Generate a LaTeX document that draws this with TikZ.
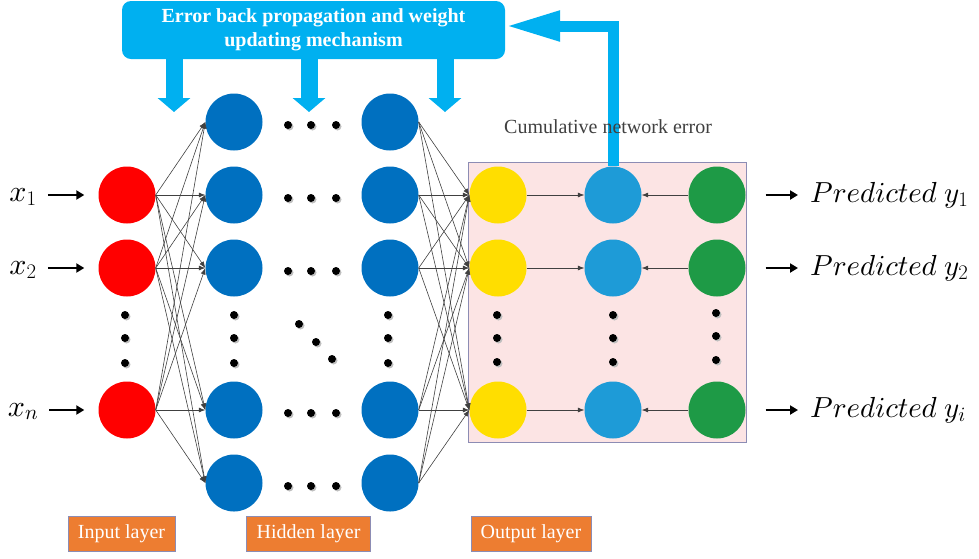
\documentclass[tikz,border=0pt]{standalone}
\usepackage{fontspec}
\setmainfont{Liberation Serif}
\usetikzlibrary{arrows.meta,positioning,fit,backgrounds}
\DeclareFontFamily{OML}{cmm}{\skewchar\font'177}
\DeclareFontShape{OML}{cmm}{m}{it}{<-> cmmi10}{}

\definecolor{bannerblue}{RGB}{0,176,240}
\definecolor{inred}{RGB}{255,0,0}
\definecolor{hidblue}{RGB}{0,112,192}
\definecolor{outyellow}{RGB}{255,222,0}
\definecolor{errblue}{RGB}{30,155,215}
\definecolor{tgtgreen}{RGB}{30,154,70}
\definecolor{boxpink}{RGB}{252,228,228}
\definecolor{boxedge}{RGB}{140,140,180}
\definecolor{labelorange}{RGB}{237,125,49}

\tikzset{
  neuron/.style={circle, minimum size=57pt, inner sep=0pt},
  wire/.style={draw=black!75, line width=0.6pt, -{Latex[length=6.5pt,width=5pt]}},
  ioarrow/.style={line width=2.4pt, -{Triangle[width=9pt,length=8pt]}},
  downarrow/.style={draw=bannerblue, line width=17pt, -{Triangle[width=32pt,length=14pt]}},
  layerlabel/.style={fill=labelorange, draw=boxedge, text=white,
    font=\fontsize{20}{24}\selectfont, minimum height=35pt, inner xsep=10pt},
  mathlabel/.style={inner sep=0pt, anchor=base, font=\fontsize{30}{34}\selectfont}
}

\begin{document}
\begin{tikzpicture}[x=1pt,y=-1pt]
        \useasboundingbox (0,0) rectangle (979,558);

        \node[neuron, fill=inred] (i1) at (127,195) {};
        \node[neuron, fill=inred] (i2) at (127,268) {};
        \node[neuron, fill=inred] (i3) at (127,410) {};

        \node[neuron, fill=hidblue] (h1) at (234,122) {};
        \node[neuron, fill=hidblue] (h2) at (234,195) {};
        \node[neuron, fill=hidblue] (h3) at (234,268) {};
        \node[neuron, fill=hidblue] (h4) at (234,410) {};
        \node[neuron, fill=hidblue] (h5) at (234,483) {};

        \node[neuron, fill=hidblue] (k1) at (390,122) {};
        \node[neuron, fill=hidblue] (k2) at (390,195) {};
        \node[neuron, fill=hidblue] (k3) at (390,268) {};
        \node[neuron, fill=hidblue] (k4) at (390,410) {};
        \node[neuron, fill=hidblue] (k5) at (390,483) {};

        \node[neuron, fill=outyellow] (o1) at (498,195) {};
        \node[neuron, fill=outyellow] (o2) at (498,268) {};
        \node[neuron, fill=outyellow] (o3) at (498,410) {};

        \node[neuron, fill=errblue] (e1) at (613,195) {};
        \node[neuron, fill=errblue] (e2) at (613,268) {};
        \node[neuron, fill=errblue] (e3) at (613,410) {};

        \node[neuron, fill=tgtgreen] (g1) at (717,195) {};
        \node[neuron, fill=tgtgreen] (g2) at (717,268) {};
        \node[neuron, fill=tgtgreen] (g3) at (717,410) {};

        \begin{scope}[on background layer]
        \node[fit=(o1)(g3), fill=boxpink, draw=boxedge, line width=0.8pt,
          inner xsep=1pt, inner ysep=4pt] (outbox) {};
        \end{scope}

        \foreach \a in {i1,i2,i3}
          \foreach \b in {h1,h2,h3,h4,h5}
            \draw[wire] (\a.east) -- (\b.west);
        \foreach \a in {k1,k2,k3,k4,k5}
          \foreach \b in {o1,o2,o3}
            \draw[wire] (\a.east) -- (\b.west);
        \foreach \r in {1,2,3} {
          \draw[wire] (o\r.east) -- (e\r.west);
          \draw[wire] (g\r.west) -- (e\r.east);
        }

        \foreach \dx/\dy in {288/125,311/125,336/125, 288/198,311/198,336/198,
            288/271,311/271,336/271, 288/413,311/413,336/413, 288/486,311/486,336/486,
            299/324,316/342,332/359,
            125/315,125/338,125/363, 234/315,234/338,234/363, 388/315,388/338,388/363,
            497/315,497/338,497/362, 613/315,613/338,613/362, 716/313,716/336,716/360} {
          \fill[black!25] (\dx+1.5,\dy+1.5) circle (4pt);
          \fill (\dx,\dy) circle (4pt);
        }

        \node[rounded corners=9pt, fill=bannerblue, minimum width=383pt, minimum height=58pt,
          text=white, align=center, font=\bfseries\fontsize{20}{24}\selectfont]
          (bnr) at (313.5,30) {Error back propagation and weight\\updating mechanism};

        \coordinate (tA) at (174,112);
        \coordinate (tB) at (309,112);
        \coordinate (tC) at (445,112);
        \draw[downarrow] (bnr.south -| tA) -- (tA);
        \draw[downarrow] (bnr.south -| tB) -- (tB);
        \draw[downarrow] (bnr.south -| tC) -- (tC);

        \draw[draw=bannerblue, line width=11pt, -{Triangle[width=28pt,length=55pt]}]
          (e1.north) |- ([yshift=4pt]bnr.east);

        \node[anchor=base west, inner sep=0pt, text=black!75, font=\fontsize{20}{24}\selectfont]
          (cumerr) at (504,133) {Cumulative network error};

        \node[mathlabel] (x1) at (23,201) {$x_1$};
        \node[mathlabel] (x2) at (23,274) {$x_2$};
        \node[mathlabel] (xn) at (23,416) {$x_n$};
        \draw[ioarrow, shorten <=11pt, shorten >=14pt] (x1.east |- i1.west) -- (i1.west);
        \draw[ioarrow, shorten <=11pt, shorten >=14pt] (x2.east |- i2.west) -- (i2.west);
        \draw[ioarrow, shorten <=11pt, shorten >=14pt] (xn.east |- i3.west) -- (i3.west);

        \node[mathlabel, anchor=base west, font=\fontsize{29}{33}\selectfont] (p1) at (810,202) {$Predicted\ y_1$};
        \node[mathlabel, anchor=base west, font=\fontsize{29}{33}\selectfont] (p2) at (810,275) {$Predicted\ y_2$};
        \node[mathlabel, anchor=base west, font=\fontsize{29}{33}\selectfont] (p3) at (810,417) {$Predicted\ y_i$};
        \draw[ioarrow, shorten <=20pt, shorten >=12pt] (g1.east) -- (p1.west |- g1.east);
        \draw[ioarrow, shorten <=20pt, shorten >=12pt] (g2.east) -- (p2.west |- g2.east);
        \draw[ioarrow, shorten <=20pt, shorten >=12pt] (g3.east) -- (p3.west |- g3.east);

        \node[layerlabel] (inlab) at (121.5,533.5) {Input layer};
        \node[layerlabel] (hidlab) at (308.5,533.5) {Hidden layer};
        \node[layerlabel] (outlab) at (531,533.5) {Output layer};

      \end{tikzpicture}
\end{document}
